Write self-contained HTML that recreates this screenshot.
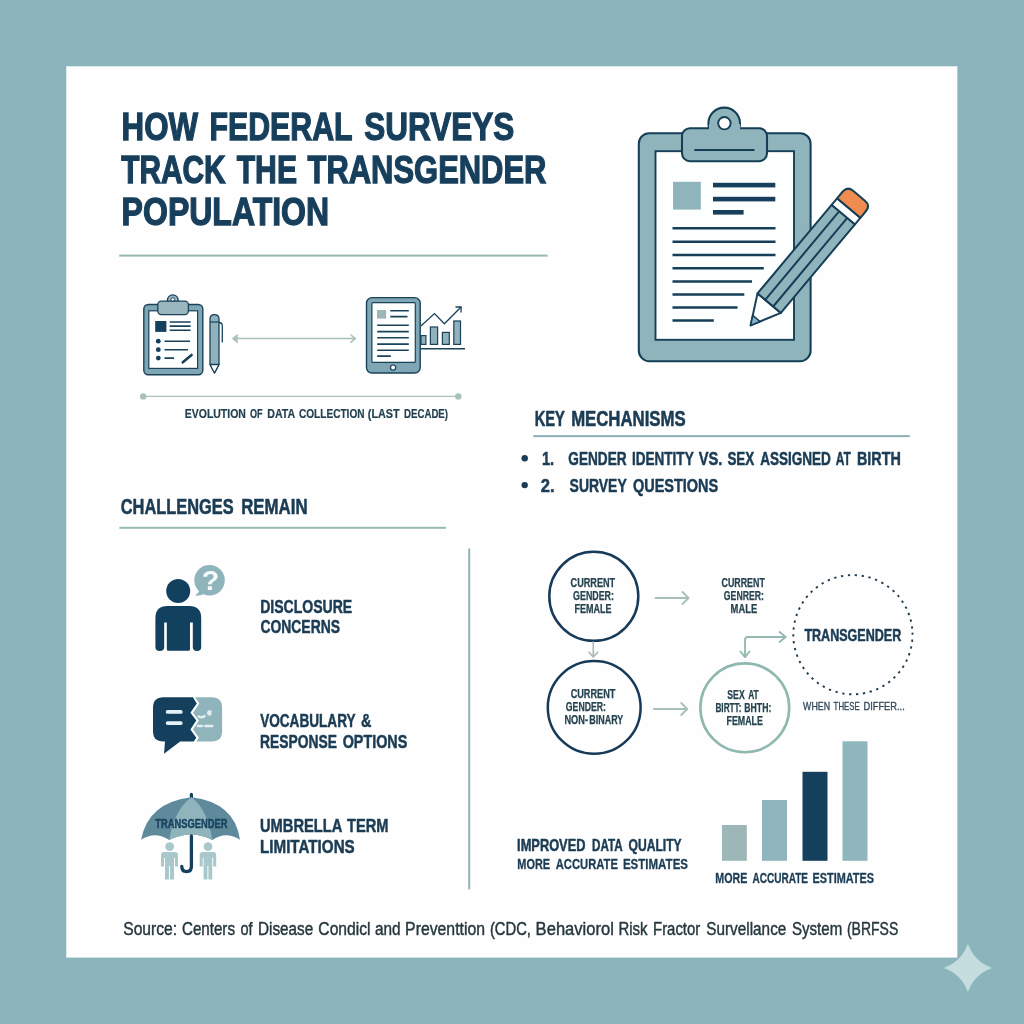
<!DOCTYPE html>
<html><head><meta charset="utf-8">
<style>
html,body{margin:0;padding:0;background:#8cb5bb;}
body{width:1024px;height:1024px;overflow:hidden;font-family:"Liberation Sans",sans-serif;}
svg{display:block;will-change:transform}
text{font-family:"Liberation Sans",sans-serif;}
.b{font-weight:bold}
.nv{fill:#173f5c}
.dk{fill:#1d3b4f}
</style></head><body>
<svg width="1024" height="1024" viewBox="0 0 1024 1024">
<rect width="1024" height="1024" fill="#8cb5bb"/>
<rect x="66.3" y="66.3" width="891" height="891.3" fill="#fefefe"/>
<!-- sparkle -->
<path d="M967.9 943.8Q974.2 961.6 992 967.9Q974.2 974.2 967.9 992Q961.6 974.2 943.8 967.9Q961.6 961.6 967.9 943.8Z" fill="#c6dde0"/>

<!-- TITLE -->

<rect x="119.2" y="254.6" width="428.4" height="2" fill="#98b9b1"/>

<!-- SECTION: EVOLUTION -->
<g id="evo">
<!-- small clipboard -->
<rect x="143.8" y="304.5" width="59" height="70.3" rx="4.5" fill="#7fa6b4" stroke="#1a4259" stroke-width="1.4"/>
<rect x="148.8" y="310.8" width="48.8" height="57.6" fill="#fdfefe" stroke="#1a4259" stroke-width="1.2"/>
<circle cx="172.8" cy="300.2" r="5.4" fill="#9ab7c0" stroke="#1a4259" stroke-width="1.3"/>
<circle cx="172.8" cy="299.6" r="1.9" fill="#fdfefe" stroke="#1a4259" stroke-width="1"/>
<rect x="157.8" y="301.2" width="30.6" height="13.4" rx="3.5" fill="#9ab7c0" stroke="#1a4259" stroke-width="1.3"/>
<rect x="155.2" y="321" width="11.2" height="10.9" fill="#163f5c"/>
<g stroke="#1a4259" stroke-width="1.55" fill="none">
<path d="M169.7 321.9H190.6M169.7 326.1H190.6M169.7 330.3H190.6"/>
<path d="M164.5 341.2H190M164.5 349.7H188M164.5 358.1H174"/>
</g>
<g fill="#163f5c"><circle cx="158.3" cy="341.2" r="2.4"/><circle cx="158.3" cy="349.7" r="2.4"/><circle cx="158.3" cy="358.1" r="2.4"/></g>
<path d="M182.8 362.3L191.6 355" stroke="#163f5c" stroke-width="2.6" stroke-linecap="round"/>
<!-- pen -->
<path d="M219 322.5 Q222.3 322.5 222.3 326 V342.5" fill="none" stroke="#1a4259" stroke-width="1.3"/>
<path d="M210 364.5 V319 Q210 314.6 214.5 314.6 Q219 314.6 219 319 V364.5 L214.5 373 Z" fill="#8fb2bd" stroke="#1a4259" stroke-width="1.3" stroke-linejoin="round"/>
<path d="M210 364.5 H219 L214.5 373 Z" fill="#fdfefe" stroke="#1a4259" stroke-width="1.3" stroke-linejoin="round"/>
<path d="M210 322H219" stroke="#1a4259" stroke-width="1.2"/>
<!-- double arrow -->
<g stroke="#a9c0bb" stroke-width="1.5" fill="none" stroke-linecap="round" stroke-linejoin="round">
<path d="M233.5 338.6H354.6"/><path d="M237.3 335L233 338.6L237.3 342.2"/><path d="M351 335L355.3 338.6L351 342.2"/>
</g>
<path d="M233 338.6L237.6 335.2V342Z" fill="#a9c0bb"/>
<!-- tablet -->
<rect x="366.5" y="297.6" width="53.7" height="75.4" rx="5.5" fill="#7fa6b4" stroke="#1a4259" stroke-width="1.4"/>
<rect x="371.9" y="302.6" width="43.4" height="59.8" rx="1" fill="#fdfefe" stroke="#1a4259" stroke-width="1.2"/>
<circle cx="393.1" cy="367.6" r="2.6" fill="#fdfefe" stroke="#1a4259" stroke-width="1.2"/>
<rect x="377" y="310" width="9.1" height="8.6" fill="#9db4b8"/>
<g stroke="#1a4259" stroke-width="1.6" fill="none">
<path d="M390.3 310.8H408.8M390.3 316.6H407.5"/>
<path d="M377.2 325.3H408.8M377.2 331.6H408.8M377.2 337.8H408.8M377.2 344.1H408.8M377.2 350.3H408.8M377.2 356.1H390.8"/>
</g>
<!-- chart -->
<g fill="#8fb2bd" stroke="#1a4259" stroke-width="1.2">
<rect x="421" y="335.6" width="4.9" height="8.8"/>
<rect x="430.4" y="327" width="7.2" height="17.4"/>
<rect x="442.4" y="332.4" width="6.9" height="12"/>
<rect x="453.8" y="321" width="6.7" height="23.4"/>
</g>
<path d="M420.9 348.8H465" stroke="#1a4259" stroke-width="1.4"/>
<path d="M420.9 326.1L434.5 313.6L444.4 323.8L460.8 307.2" fill="none" stroke="#1a4259" stroke-width="1.3" stroke-linejoin="miter"/>
<path d="M455.5 307L461.2 306.8L461 312.6" fill="none" stroke="#1a4259" stroke-width="1.3"/>
<!-- timeline -->
<path d="M143 396.4H458.3" stroke="#a9c0bb" stroke-width="1.4"/>
<circle cx="143.2" cy="396.4" r="3.2" fill="#a9c0bb"/><circle cx="458.3" cy="396.4" r="3.2" fill="#a9c0bb"/>
</g>

<!-- SECTION: BIG CLIPBOARD -->
<g id="bigclip">
<rect x="638.8" y="133.2" width="171.8" height="228" rx="10.5" fill="#8fb4bc" stroke="#153f57" stroke-width="2.05"/>
<rect x="655.5" y="151.2" width="138.5" height="188.6" fill="#fdfefe" stroke="#153f57" stroke-width="1.9"/>
<circle cx="724.2" cy="123.4" r="15.8" fill="#8fb4bc" stroke="#153f57" stroke-width="2.05"/>
<rect x="682" y="128.2" width="85" height="33" rx="8" fill="#8fb4bc" stroke="#153f57" stroke-width="2.05"/>
<rect x="709" y="124" width="31" height="12" fill="#8fb4bc"/>
<circle cx="724.4" cy="123.2" r="6.2" fill="#fdfefe" stroke="#153f57" stroke-width="1.9"/>
<path d="M694.3 150H754.5" stroke="#153f57" stroke-width="1.9"/>
<rect x="673" y="181.8" width="27.8" height="27.8" fill="#8fb4bc"/>
<g fill="#173f5c">
<rect x="713" y="182.8" width="62.3" height="4.6"/><rect x="713" y="196.8" width="62.3" height="4.6"/><rect x="713" y="210" width="30.6" height="4.6"/>
</g>
<g stroke="#153f57" stroke-width="2.5">
<path d="M672.5 228.3H775.5M672.5 241.8H775.5M672.5 255H775.5M672.5 268.3H763.8M672.5 281.5H752M672.5 294.5H744.3M672.5 307.5H737.5M672.5 320.5H713.8"/>
</g>
<g transform="translate(750.6 325.4) rotate(-50.1)" stroke="#153f57" stroke-width="2" stroke-linejoin="round">
<path d="M0 0L29 -15.2V15.2Z" fill="#fdfefe"/>
<path d="M0 0L9 -4.7V4.7Z" fill="#86b4d0" stroke-width="1.6"/>
<rect x="29" y="-15.2" width="115.5" height="30.4" fill="#8fb4bc"/>
<path d="M29 -5.2H144.5M29 5.2H144.5" fill="none"/>
<rect x="144.5" y="-15.2" width="8.5" height="30.4" fill="#fdfefe"/>
<path d="M153 -15.2H161.5Q169 -15.2 169 -7.7V7.7Q169 15.2 161.5 15.2H153Z" fill="#f08c4f"/>
</g>
</g>

<!-- SECTION: KEY MECHANISMS -->
<g id="keymech">
<rect x="533.3" y="435.2" width="376.5" height="1.9" fill="#86adb3"/>
<circle cx="524.7" cy="458.2" r="3.2" fill="#1b3c54"/><circle cx="524.7" cy="485.1" r="3.2" fill="#1b3c54"/>
</g>

<!-- SECTION: CHALLENGES -->
<g id="chal">
<rect x="119.4" y="526.8" width="326.5" height="2" fill="#94bab0"/>
<rect x="468.2" y="548.4" width="2" height="341" fill="#94b4b6"/>
<g fill="#12405f">
<circle cx="178.2" cy="591.1" r="12"/>
<path d="M155.4 647V618Q155.4 606 167.4 606H189.2Q201.2 606 201.2 618V647Q201.2 651 197 651Q192.8 651 192.8 647V622.6H190V649.2Q190 650.7 188.5 650.7H168.3Q166.8 650.7 166.8 649.2V622.6H164.2V647Q164.2 651 159.8 651Q155.4 651 155.4 647Z"/>
</g>
<path d="M195 595.6Q198.6 592.6 198.9 591.2A15.3 15.3 0 1 1 203.6 594.3Q200 596 195 595.6Z" fill="#8fb4bc"/>
<text x="210.4" y="590.4" font-size="28.5" class="b" fill="#f6fafa" text-anchor="middle">?</text>
<path d="M163.5 697.2H192.9L196.8 703.6L190.4 712.8L196.3 720.6L190.4 729.4L196.3 737.7L193.8 741.6H180.2L164 753.8L165 741.6H163.5Q153 741.6 153 731.1V707.7Q153 697.2 163.5 697.2Z" fill="#14405e"/>
<path d="M195.2 697.2H211.6Q222.1 697.2 222.1 707.7V731.1Q222.1 741.6 211.6 741.6H196.4L198.9 737.7L193 729.4L198.9 720.6L193 712.8L199.4 703.6Z" fill="#8fb4bc"/>
<g stroke="#e4f2f8" stroke-width="3.7" stroke-linecap="round"><path d="M167.6 711.9H180.8M167.6 723.1H180.8"/></g>
<g stroke="#e2eff1" stroke-width="2.3" fill="none" stroke-linecap="round" stroke-linejoin="round"><path d="M198.6 716.4Q201.5 718.6 204.6 716"/><path d="M197.8 726H202.2M205.2 726H212.4"/></g>
<path d="M206.6 713.2L208 710.6L211.6 710.2L211.2 715.4L208.6 715.6Z" fill="#e2eff1"/>
<path d="M191.4 794.4V798" stroke="#14405e" stroke-width="3.2" stroke-linecap="round"/>
<path d="M141.1 839.8Q148 802.5 191.4 797.3Q234.8 802.5 240 839.8Q226 830.5 212.2 840Q191.4 829 169.3 840Q155 830.5 141.1 839.8Z" fill="#5e8a9b"/>
<path d="M191.4 797.3Q174 810 169.3 840Q191.4 829 212.2 840Q208 810 191.4 797.3Z" fill="#8fb4bc"/>
<path d="M191.4 836V866.5Q191.4 871.6 186.6 871.6Q181.8 871.6 181.8 866.5" fill="none" stroke="#14405e" stroke-width="3.3" stroke-linecap="round"/>
<g fill="#a9c8cb">
<circle cx="169.7" cy="846.6" r="4.4"/><circle cx="208" cy="846.6" r="4.4"/>
<path d="M161 855Q161 852 164 852H175Q178 852 178 855V866.5H175V858H174V879.4H170V866H169V879.4H165V858H164V866.5H161Z"/>
<path d="M199.7 855Q199.7 852 202.7 852H213.2Q216.2 852 216.2 855V866.5H213.2V858H212.2V879.4H208.4V866H207.4V879.4H203.6V858H202.7V866.5H199.7Z"/>
</g>
</g>

<!-- SECTION: DIAGRAM -->
<g id="diagram">
<circle cx="593.8" cy="596.3" r="44.5" fill="none" stroke="#163a58" stroke-width="2.5"/>
<circle cx="594.2" cy="707.4" r="46.4" fill="none" stroke="#163a58" stroke-width="2.5"/>
<circle cx="744.8" cy="707.8" r="44.4" fill="none" stroke="#8fb8b0" stroke-width="2.6"/>
<circle cx="852.9" cy="634.7" r="59.6" fill="none" stroke="#1f3d4f" stroke-width="1.9" stroke-dasharray="2.3 4.635" transform="rotate(-2 852.9 634.7)"/>
<g stroke="#a8bfba" stroke-width="1.8" fill="none" stroke-linecap="round" stroke-linejoin="round">
<path d="M655.5 598H688.3"/><path d="M682.5 592L688.6 598L682.5 604"/>
<path d="M653.8 709H687"/><path d="M681.2 703L687.3 709L681.2 715"/>
</g>
<g stroke="#a9b8b7" stroke-width="1.6" fill="none" stroke-linecap="round" stroke-linejoin="round">
<path d="M593.3 642V656.5"/><path d="M589 652.2L593.3 657L597.6 652.2"/>
</g>
<g stroke="#94bab2" stroke-width="1.9" fill="none" stroke-linecap="round" stroke-linejoin="round">
<path d="M745 656.5V640Q745 637 748 637H785.3"/><path d="M740.5 651.5L745 657.2L749.5 651.5"/><path d="M779.5 632L785.8 637L779.5 642"/>
</g>
</g>

<!-- SECTION: BARS -->
<g id="bars">
<rect x="722" y="825" width="24.8" height="35.8" fill="#9db6b8"/>
<rect x="762" y="800" width="25" height="60.8" fill="#8fb6bd"/>
<rect x="802.5" y="771.8" width="25" height="89" fill="#14405e"/>
<rect x="842.5" y="741.3" width="25" height="119.5" fill="#8fb6bd"/>
</g>

<!-- SOURCE -->
<g id="source"></g>
<g id="texts">
<text x="121.53" y="139.95" font-size="38.52" font-weight="bold" fill="#173f5c" stroke="#173f5c" stroke-width="1.3" stroke-linejoin="miter" textLength="76.52" lengthAdjust="spacingAndGlyphs">HOW</text>
<text x="209.45" y="139.95" font-size="38.52" font-weight="bold" fill="#173f5c" stroke="#173f5c" stroke-width="1.3" stroke-linejoin="miter" textLength="143.21" lengthAdjust="spacingAndGlyphs">FEDERAL</text>
<text x="364.34" y="139.95" font-size="38.52" font-weight="bold" fill="#173f5c" stroke="#173f5c" stroke-width="1.3" stroke-linejoin="miter" textLength="149.98" lengthAdjust="spacingAndGlyphs">SURVEYS</text>
<text x="121.20" y="182.95" font-size="38.52" font-weight="bold" fill="#173f5c" stroke="#173f5c" stroke-width="1.3" stroke-linejoin="miter" textLength="104.50" lengthAdjust="spacingAndGlyphs">TRACK</text>
<text x="236.69" y="182.95" font-size="38.52" font-weight="bold" fill="#173f5c" stroke="#173f5c" stroke-width="1.3" stroke-linejoin="miter" textLength="60.33" lengthAdjust="spacingAndGlyphs">THE</text>
<text x="307.49" y="182.95" font-size="38.52" font-weight="bold" fill="#173f5c" stroke="#173f5c" stroke-width="1.3" stroke-linejoin="miter" textLength="238.98" lengthAdjust="spacingAndGlyphs">TRANSGENDER</text>
<text x="121.62" y="225.45" font-size="38.37" font-weight="bold" fill="#173f5c" stroke="#173f5c" stroke-width="1.3" stroke-linejoin="miter" textLength="207.54" lengthAdjust="spacingAndGlyphs">POPULATION</text>
<text x="184.82" y="417.50" font-size="13.52" font-weight="bold" fill="#22404f" stroke="#22404f" stroke-width="0.2" stroke-linejoin="round" textLength="61.03" lengthAdjust="spacingAndGlyphs">EVOLUTION</text>
<text x="249.97" y="417.50" font-size="13.52" font-weight="bold" fill="#22404f" stroke="#22404f" stroke-width="0.2" stroke-linejoin="round" textLength="12.63" lengthAdjust="spacingAndGlyphs">OF</text>
<text x="267.31" y="417.50" font-size="13.52" font-weight="bold" fill="#22404f" stroke="#22404f" stroke-width="0.2" stroke-linejoin="round" textLength="27.92" lengthAdjust="spacingAndGlyphs">DATA</text>
<text x="298.95" y="417.50" font-size="13.52" font-weight="bold" fill="#22404f" stroke="#22404f" stroke-width="0.2" stroke-linejoin="round" textLength="65.62" lengthAdjust="spacingAndGlyphs">COLLECTION</text>
<text x="367.79" y="417.50" font-size="13.52" font-weight="bold" fill="#22404f" stroke="#22404f" stroke-width="0.2" stroke-linejoin="round" textLength="31.83" lengthAdjust="spacingAndGlyphs">(LAST</text>
<text x="404.06" y="417.50" font-size="13.52" font-weight="bold" fill="#22404f" stroke="#22404f" stroke-width="0.2" stroke-linejoin="round" textLength="43.94" lengthAdjust="spacingAndGlyphs">DECADE)</text>
<text x="534.67" y="425.60" font-size="21.37" font-weight="bold" fill="#1b3c54" stroke="#1b3c54" stroke-width="0.6" stroke-linejoin="round" textLength="30.22" lengthAdjust="spacingAndGlyphs">KEY</text>
<text x="571.14" y="425.60" font-size="21.37" font-weight="bold" fill="#1b3c54" stroke="#1b3c54" stroke-width="0.6" stroke-linejoin="round" textLength="114.50" lengthAdjust="spacingAndGlyphs">MECHANISMS</text>
<text x="541.93" y="464.95" font-size="18.31" font-weight="bold" fill="#1b3c54" stroke="#1b3c54" stroke-width="0.5" stroke-linejoin="round" textLength="12.23" lengthAdjust="spacingAndGlyphs">1.</text>
<text x="568.29" y="464.95" font-size="18.31" font-weight="bold" fill="#1b3c54" stroke="#1b3c54" stroke-width="0.5" stroke-linejoin="round" textLength="58.29" lengthAdjust="spacingAndGlyphs">GENDER</text>
<text x="631.91" y="464.95" font-size="18.31" font-weight="bold" fill="#1b3c54" stroke="#1b3c54" stroke-width="0.5" stroke-linejoin="round" textLength="61.77" lengthAdjust="spacingAndGlyphs">IDENTITY</text>
<text x="698.79" y="464.95" font-size="18.31" font-weight="bold" fill="#1b3c54" stroke="#1b3c54" stroke-width="0.5" stroke-linejoin="round" textLength="23.64" lengthAdjust="spacingAndGlyphs">VS.</text>
<text x="727.40" y="464.95" font-size="18.31" font-weight="bold" fill="#1b3c54" stroke="#1b3c54" stroke-width="0.5" stroke-linejoin="round" textLength="26.91" lengthAdjust="spacingAndGlyphs">SEX</text>
<text x="760.13" y="464.95" font-size="18.31" font-weight="bold" fill="#1b3c54" stroke="#1b3c54" stroke-width="0.5" stroke-linejoin="round" textLength="70.71" lengthAdjust="spacingAndGlyphs">ASSIGNED</text>
<text x="835.71" y="464.95" font-size="18.31" font-weight="bold" fill="#1b3c54" stroke="#1b3c54" stroke-width="0.5" stroke-linejoin="round" textLength="15.06" lengthAdjust="spacingAndGlyphs">AT</text>
<text x="856.94" y="464.95" font-size="18.31" font-weight="bold" fill="#1b3c54" stroke="#1b3c54" stroke-width="0.5" stroke-linejoin="round" textLength="43.84" lengthAdjust="spacingAndGlyphs">BIRTH</text>
<text x="540.85" y="492.15" font-size="18.75" font-weight="bold" fill="#1b3c54" stroke="#1b3c54" stroke-width="0.5" stroke-linejoin="round" textLength="13.84" lengthAdjust="spacingAndGlyphs">2.</text>
<text x="569.58" y="492.15" font-size="18.75" font-weight="bold" fill="#1b3c54" stroke="#1b3c54" stroke-width="0.5" stroke-linejoin="round" textLength="57.17" lengthAdjust="spacingAndGlyphs">SURVEY</text>
<text x="632.97" y="492.15" font-size="18.75" font-weight="bold" fill="#1b3c54" stroke="#1b3c54" stroke-width="0.5" stroke-linejoin="round" textLength="85.27" lengthAdjust="spacingAndGlyphs">QUESTIONS</text>
<text x="120.77" y="514.10" font-size="21.80" font-weight="bold" fill="#1b3c54" stroke="#1b3c54" stroke-width="0.6" stroke-linejoin="round" textLength="112.82" lengthAdjust="spacingAndGlyphs">CHALLENGES</text>
<text x="241.14" y="514.10" font-size="21.80" font-weight="bold" fill="#1b3c54" stroke="#1b3c54" stroke-width="0.6" stroke-linejoin="round" textLength="66.45" lengthAdjust="spacingAndGlyphs">REMAIN</text>
<text x="260.16" y="612.50" font-size="18.17" font-weight="bold" fill="#1b3c54" stroke="#1b3c54" stroke-width="0.5" stroke-linejoin="round" textLength="92.06" lengthAdjust="spacingAndGlyphs">DISCLOSURE</text>
<text x="260.53" y="633.25" font-size="18.17" font-weight="bold" fill="#1b3c54" stroke="#1b3c54" stroke-width="0.5" stroke-linejoin="round" textLength="79.41" lengthAdjust="spacingAndGlyphs">CONCERNS</text>
<text x="260.15" y="727.25" font-size="18.02" font-weight="bold" fill="#1b3c54" stroke="#1b3c54" stroke-width="0.5" stroke-linejoin="round" textLength="95.44" lengthAdjust="spacingAndGlyphs">VOCABULARY</text>
<text x="361.06" y="727.25" font-size="18.02" font-weight="bold" fill="#1b3c54" stroke="#1b3c54" stroke-width="0.5" stroke-linejoin="round" textLength="10.40" lengthAdjust="spacingAndGlyphs">&amp;</text>
<text x="260.05" y="748.15" font-size="18.17" font-weight="bold" fill="#1b3c54" stroke="#1b3c54" stroke-width="0.5" stroke-linejoin="round" textLength="76.84" lengthAdjust="spacingAndGlyphs">RESPONSE</text>
<text x="342.63" y="748.15" font-size="18.17" font-weight="bold" fill="#1b3c54" stroke="#1b3c54" stroke-width="0.5" stroke-linejoin="round" textLength="64.72" lengthAdjust="spacingAndGlyphs">OPTIONS</text>
<text x="259.98" y="831.95" font-size="18.17" font-weight="bold" fill="#1b3c54" stroke="#1b3c54" stroke-width="0.5" stroke-linejoin="round" textLength="82.41" lengthAdjust="spacingAndGlyphs">UMBRELLA</text>
<text x="347.08" y="831.95" font-size="18.17" font-weight="bold" fill="#1b3c54" stroke="#1b3c54" stroke-width="0.5" stroke-linejoin="round" textLength="41.44" lengthAdjust="spacingAndGlyphs">TERM</text>
<text x="260.02" y="852.95" font-size="18.02" font-weight="bold" fill="#1b3c54" stroke="#1b3c54" stroke-width="0.5" stroke-linejoin="round" textLength="94.73" lengthAdjust="spacingAndGlyphs">LIMITATIONS</text>
<text x="155.22" y="827.55" font-size="12.50" font-weight="bold" fill="#1a4560" stroke="#1a4560" stroke-width="0.5" stroke-linejoin="round" textLength="72.20" lengthAdjust="spacingAndGlyphs">TRANSGENDER</text>
<text x="570.62" y="586.77" font-size="11.99" font-weight="bold" fill="#24424f" stroke="#24424f" stroke-width="0.25" stroke-linejoin="round" textLength="44.50" lengthAdjust="spacingAndGlyphs">CURRENT</text>
<text x="573.08" y="599.77" font-size="11.85" font-weight="bold" fill="#24424f" stroke="#24424f" stroke-width="0.25" stroke-linejoin="round" textLength="40.85" lengthAdjust="spacingAndGlyphs">GENDER:</text>
<text x="574.52" y="612.88" font-size="11.99" font-weight="bold" fill="#24424f" stroke="#24424f" stroke-width="0.25" stroke-linejoin="round" textLength="36.99" lengthAdjust="spacingAndGlyphs">FEMALE</text>
<text x="570.64" y="697.58" font-size="11.99" font-weight="bold" fill="#24424f" stroke="#24424f" stroke-width="0.25" stroke-linejoin="round" textLength="44.84" lengthAdjust="spacingAndGlyphs">CURRENT</text>
<text x="565.84" y="710.67" font-size="11.99" font-weight="bold" fill="#24424f" stroke="#24424f" stroke-width="0.25" stroke-linejoin="round" textLength="40.16" lengthAdjust="spacingAndGlyphs">GENDER:</text>
<text x="564.39" y="724.17" font-size="11.99" font-weight="bold" fill="#24424f" stroke="#24424f" stroke-width="0.25" stroke-linejoin="round" textLength="23.60" lengthAdjust="spacingAndGlyphs">NON-</text>
<text x="589.28" y="724.17" font-size="11.99" font-weight="bold" fill="#24424f" stroke="#24424f" stroke-width="0.25" stroke-linejoin="round" textLength="33.95" lengthAdjust="spacingAndGlyphs">BINARY</text>
<text x="721.51" y="586.67" font-size="11.99" font-weight="bold" fill="#24424f" stroke="#24424f" stroke-width="0.25" stroke-linejoin="round" textLength="43.30" lengthAdjust="spacingAndGlyphs">CURRENT</text>
<text x="723.86" y="599.77" font-size="11.85" font-weight="bold" fill="#24424f" stroke="#24424f" stroke-width="0.25" stroke-linejoin="round" textLength="40.08" lengthAdjust="spacingAndGlyphs">GENRER:</text>
<text x="730.62" y="612.98" font-size="11.85" font-weight="bold" fill="#24424f" stroke="#24424f" stroke-width="0.25" stroke-linejoin="round" textLength="26.57" lengthAdjust="spacingAndGlyphs">MALE</text>
<text x="727.32" y="698.67" font-size="12.14" font-weight="bold" fill="#24424f" stroke="#24424f" stroke-width="0.25" stroke-linejoin="round" textLength="17.37" lengthAdjust="spacingAndGlyphs">SEX</text>
<text x="748.20" y="698.67" font-size="12.14" font-weight="bold" fill="#24424f" stroke="#24424f" stroke-width="0.25" stroke-linejoin="round" textLength="10.47" lengthAdjust="spacingAndGlyphs">AT</text>
<text x="715.41" y="711.98" font-size="12.14" font-weight="bold" fill="#24424f" stroke="#24424f" stroke-width="0.25" stroke-linejoin="round" textLength="26.04" lengthAdjust="spacingAndGlyphs">BIRTT:</text>
<text x="744.33" y="711.98" font-size="12.14" font-weight="bold" fill="#24424f" stroke="#24424f" stroke-width="0.25" stroke-linejoin="round" textLength="27.00" lengthAdjust="spacingAndGlyphs">BHTH:</text>
<text x="726.52" y="724.88" font-size="12.14" font-weight="bold" fill="#24424f" stroke="#24424f" stroke-width="0.25" stroke-linejoin="round" textLength="36.39" lengthAdjust="spacingAndGlyphs">FEMALE</text>
<text x="804.41" y="641.15" font-size="16.28" font-weight="bold" fill="#1b3c54" stroke="#1b3c54" stroke-width="0.5" stroke-linejoin="round" textLength="96.86" lengthAdjust="spacingAndGlyphs">TRANSGENDER</text>
<text x="803.09" y="710.33" font-size="11.41" fill="#33495a" stroke="#33495a" stroke-width="0.35" stroke-linejoin="round" textLength="26.94" lengthAdjust="spacingAndGlyphs">WHEN</text>
<text x="833.61" y="710.33" font-size="11.41" fill="#33495a" stroke="#33495a" stroke-width="0.35" stroke-linejoin="round" textLength="26.18" lengthAdjust="spacingAndGlyphs">THESE</text>
<text x="863.46" y="710.33" font-size="11.41" fill="#33495a" stroke="#33495a" stroke-width="0.35" stroke-linejoin="round" textLength="41.29" lengthAdjust="spacingAndGlyphs">DIFFER...</text>
<text x="517.11" y="850.65" font-size="15.70" font-weight="bold" fill="#1b3c54" stroke="#1b3c54" stroke-width="0.5" stroke-linejoin="round" textLength="68.36" lengthAdjust="spacingAndGlyphs">IMPROVED</text>
<text x="592.12" y="850.65" font-size="15.70" font-weight="bold" fill="#1b3c54" stroke="#1b3c54" stroke-width="0.5" stroke-linejoin="round" textLength="30.62" lengthAdjust="spacingAndGlyphs">DATA</text>
<text x="628.52" y="850.65" font-size="15.70" font-weight="bold" fill="#1b3c54" stroke="#1b3c54" stroke-width="0.5" stroke-linejoin="round" textLength="53.09" lengthAdjust="spacingAndGlyphs">QUALITY</text>
<text x="517.28" y="869.25" font-size="14.97" font-weight="bold" fill="#1b3c54" stroke="#1b3c54" stroke-width="0.3" stroke-linejoin="round" textLength="32.91" lengthAdjust="spacingAndGlyphs">MORE</text>
<text x="555.77" y="869.25" font-size="14.97" font-weight="bold" fill="#1b3c54" stroke="#1b3c54" stroke-width="0.3" stroke-linejoin="round" textLength="62.10" lengthAdjust="spacingAndGlyphs">ACCURATE</text>
<text x="622.89" y="869.25" font-size="14.97" font-weight="bold" fill="#1b3c54" stroke="#1b3c54" stroke-width="0.3" stroke-linejoin="round" textLength="65.16" lengthAdjust="spacingAndGlyphs">ESTIMATES</text>
<text x="715.34" y="882.95" font-size="13.81" font-weight="bold" fill="#1b3c54" stroke="#1b3c54" stroke-width="0.3" stroke-linejoin="round" textLength="32.05" lengthAdjust="spacingAndGlyphs">MORE</text>
<text x="752.43" y="882.95" font-size="13.81" font-weight="bold" fill="#1b3c54" stroke="#1b3c54" stroke-width="0.3" stroke-linejoin="round" textLength="55.60" lengthAdjust="spacingAndGlyphs">ACCURATE</text>
<text x="812.58" y="882.95" font-size="13.81" font-weight="bold" fill="#1b3c54" stroke="#1b3c54" stroke-width="0.3" stroke-linejoin="round" textLength="61.42" lengthAdjust="spacingAndGlyphs">ESTIMATES</text>
<text x="123.25" y="934.57" font-size="18.53" fill="#26383f" stroke="#26383f" stroke-width="0.45" stroke-linejoin="round" textLength="53.84" lengthAdjust="spacingAndGlyphs">Source:</text>
<text x="181.94" y="934.57" font-size="18.53" fill="#26383f" stroke="#26383f" stroke-width="0.45" stroke-linejoin="round" textLength="53.06" lengthAdjust="spacingAndGlyphs">Centers</text>
<text x="240.49" y="934.57" font-size="18.53" fill="#26383f" stroke="#26383f" stroke-width="0.45" stroke-linejoin="round" textLength="12.13" lengthAdjust="spacingAndGlyphs">of</text>
<text x="257.95" y="934.57" font-size="18.53" fill="#26383f" stroke="#26383f" stroke-width="0.45" stroke-linejoin="round" textLength="55.30" lengthAdjust="spacingAndGlyphs">Disease</text>
<text x="318.36" y="934.57" font-size="18.53" fill="#26383f" stroke="#26383f" stroke-width="0.45" stroke-linejoin="round" textLength="52.10" lengthAdjust="spacingAndGlyphs">Condicl</text>
<text x="375.01" y="934.57" font-size="18.53" fill="#26383f" stroke="#26383f" stroke-width="0.45" stroke-linejoin="round" textLength="25.64" lengthAdjust="spacingAndGlyphs">and</text>
<text x="405.10" y="934.57" font-size="18.53" fill="#26383f" stroke="#26383f" stroke-width="0.45" stroke-linejoin="round" textLength="79.94" lengthAdjust="spacingAndGlyphs">Preventtion</text>
<text x="489.93" y="934.57" font-size="18.53" fill="#26383f" stroke="#26383f" stroke-width="0.45" stroke-linejoin="round" textLength="41.02" lengthAdjust="spacingAndGlyphs">(CDC,</text>
<text x="535.62" y="934.57" font-size="18.53" fill="#26383f" stroke="#26383f" stroke-width="0.45" stroke-linejoin="round" textLength="78.30" lengthAdjust="spacingAndGlyphs">Behaviorol</text>
<text x="618.39" y="934.57" font-size="18.53" fill="#26383f" stroke="#26383f" stroke-width="0.45" stroke-linejoin="round" textLength="29.10" lengthAdjust="spacingAndGlyphs">Risk</text>
<text x="653.04" y="934.57" font-size="18.53" fill="#26383f" stroke="#26383f" stroke-width="0.45" stroke-linejoin="round" textLength="47.21" lengthAdjust="spacingAndGlyphs">Fractor</text>
<text x="706.28" y="934.57" font-size="18.53" fill="#26383f" stroke="#26383f" stroke-width="0.45" stroke-linejoin="round" textLength="80.04" lengthAdjust="spacingAndGlyphs">Survellance</text>
<text x="792.03" y="934.57" font-size="18.53" fill="#26383f" stroke="#26383f" stroke-width="0.45" stroke-linejoin="round" textLength="50.15" lengthAdjust="spacingAndGlyphs">System</text>
<text x="846.92" y="934.57" font-size="18.53" fill="#26383f" stroke="#26383f" stroke-width="0.45" stroke-linejoin="round" textLength="51.39" lengthAdjust="spacingAndGlyphs">(BRFSS</text>
</g>
</svg>
</body></html>
